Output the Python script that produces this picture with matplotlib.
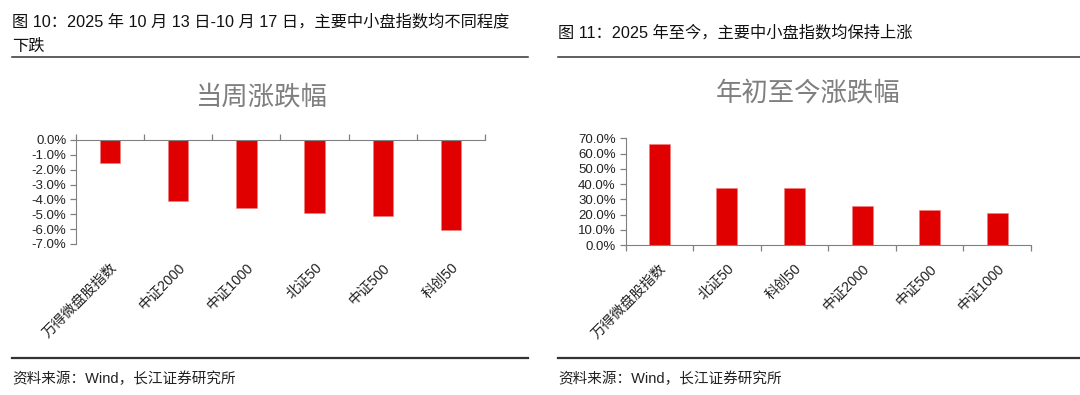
import numpy as np
import matplotlib
matplotlib.use("Agg")
from matplotlib import pyplot as plt
from matplotlib.ticker import FuncFormatter, MultipleLocator

plt.rcParams['font.family'] = ['Liberation Sans', 'Noto Sans CJK SC', 'DejaVu Sans']

# 当周涨跌幅 (%)
week_names = ['万得微盘股指数', '中证2000', '中证1000', '北证50', '中证500', '科创50']
week_values = [-1.53, -4.11, -4.56, -4.89, -5.14, -6.06]

# 年初至今涨跌幅 (%)
ytd_names = ['万得微盘股指数', '北证50', '科创50', '中证2000', '中证500', '中证1000']
ytd_values = [66.3, 37.7, 37.7, 25.8, 22.8, 20.8]

caption_left = ['图 10：2025 年 10 月 13 日-10 月 17 日，主要中小盘指数均不同程度', '下跌']
caption_right = '图 11：2025 年至今，主要中小盘指数均保持上涨'
source_text = '资料来源：Wind，长江证券研究所'

BAR_RED = '#E00000'
AXIS_GRAY = '#808080'
TITLE_GRAY = '#7F7F7F'

W, H = 1080, 395
fig = plt.figure(figsize=(W / 100, H / 100), dpi=100)


def px(x, y):
    # pixel coords (from top-left) to figure fraction
    return x / W, 1 - y / H


def pct_fmt(v, pos):
    return f'{v:.1f}%'


def style_axes(ax, names, axis_on_top):
    x = np.arange(len(names))
    ax.set_xlim(-0.5, len(names) - 0.5)
    for s in ax.spines.values():
        s.set_visible(False)
    ax.spines['left'].set_visible(True)
    ax.spines['left'].set_color(AXIS_GRAY)
    ax.yaxis.set_major_formatter(FuncFormatter(pct_fmt))
    ax.tick_params(axis='y', colors=AXIS_GRAY, labelcolor='#222222', labelsize=9.5,
                   length=4, width=0.9, direction='out', pad=3)
    ax.set_xticks(x)
    ax.set_xticklabels(names, rotation=45, ha='right', rotation_mode='anchor',
                       fontsize=10.2, color='#222222')
    ax.set_xticks(np.arange(len(names) + 1) - 0.5, minor=True)
    if axis_on_top:
        ax.spines['top'].set_visible(True)
        ax.spines['top'].set_color(AXIS_GRAY)
        ax.tick_params(axis='x', which='major', bottom=True, top=False, length=0, pad=12)
        ax.tick_params(axis='x', which='minor', bottom=False, top=True, length=4,
                       width=0.9, color=AXIS_GRAY, direction='out')
    else:
        ax.spines['bottom'].set_visible(True)
        ax.spines['bottom'].set_color(AXIS_GRAY)
        ax.tick_params(axis='x', which='major', length=0, pad=12)
        ax.tick_params(axis='x', which='minor', length=4, width=0.9,
                       color=AXIS_GRAY, direction='out')
    return x


# ---- left panel ----
x0, y1 = px(76, 140)
x1, y0 = px(485, 244)
ax1 = fig.add_axes([x0, y0, x1 - x0, y1 - y0])
xs = style_axes(ax1, week_names, axis_on_top=True)
ax1.bar(xs, week_values, width=0.3, color=BAR_RED, edgecolor='#F08080', linewidth=0.4)
ax1.set_ylim(-7, 0)
ax1.yaxis.set_major_locator(MultipleLocator(1))

# ---- right panel ----
x0, y1 = px(625.5, 138.3)
x1, y0 = px(1031, 245)
ax2 = fig.add_axes([x0, y0, x1 - x0, y1 - y0])
xs = style_axes(ax2, ytd_names, axis_on_top=False)
ax2.bar(xs, ytd_values, width=0.31, color=BAR_RED, edgecolor='#F08080', linewidth=0.4)
ax2.set_ylim(0, 70)
ax2.yaxis.set_major_locator(MultipleLocator(10))

# ---- captions, titles, rules, source ----
fig.text(*px(12, 22), caption_left[0], fontsize=11.7, va='center', ha='left', color='#111111')
fig.text(*px(12, 46), caption_left[1], fontsize=11.7, va='center', ha='left', color='#111111')
fig.text(*px(558, 33), caption_right, fontsize=11.7, va='center', ha='left', color='#111111')

fig.text(*px(262, 97), '当周涨跌幅', fontsize=19, color=TITLE_GRAY, ha='center', va='center')
fig.text(*px(808, 94), '年初至今涨跌幅', fontsize=19, color=TITLE_GRAY, ha='center', va='center')

for (xa, xb) in [(12, 528), (558, 1080)]:
    for yy, lw in [(56.5, 1.1), (357.5, 1.6)]:
        fig.add_artist(plt.Line2D([xa / W, xb / W], [1 - yy / H, 1 - yy / H],
                                  color='#333333', linewidth=lw, transform=fig.transFigure))

fig.text(*px(12, 379), source_text, fontsize=10.5, va='center', ha='left', color='#222222')
fig.text(*px(558, 379), source_text, fontsize=10.5, va='center', ha='left', color='#222222')

fig.savefig('out.png', dpi=100)
